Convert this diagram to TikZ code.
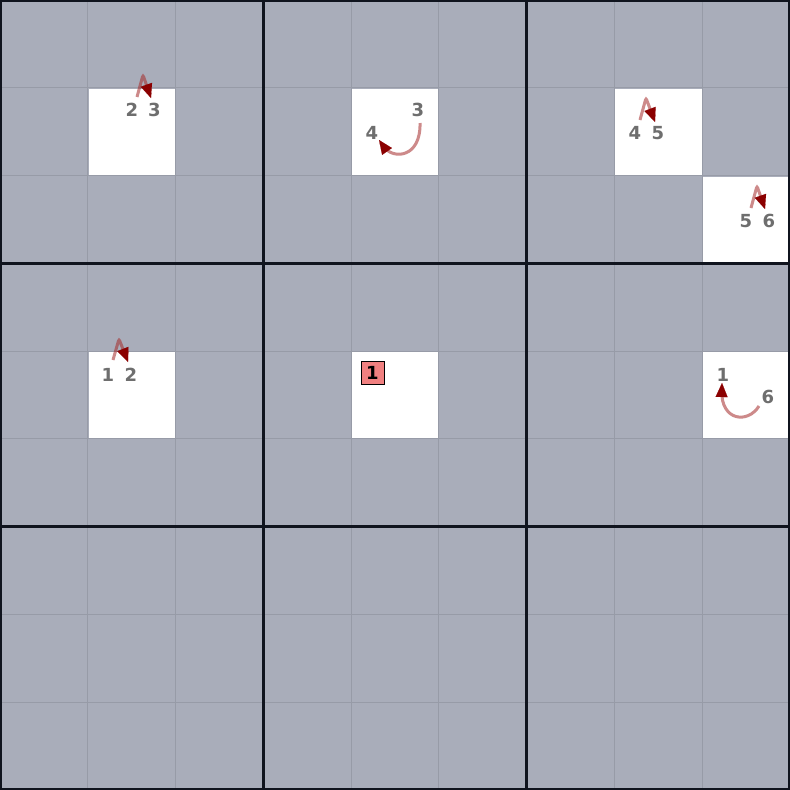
\documentclass[tikz,border=0pt]{standalone}
\usepackage{fontspec}
\setmainfont{DejaVu Sans}
\usetikzlibrary{arrows.meta,calc}
\definecolor{bg}{HTML}{A9ADBA}
\definecolor{gridthin}{HTML}{979BA7}
\definecolor{gridthick}{HTML}{10141E}
\definecolor{digit}{HTML}{6E6E6E}
\definecolor{linkcol}{HTML}{A52A2A}
\definecolor{tipred}{HTML}{8B0000}
\definecolor{boxred}{HTML}{F08080}
\tikzset{
  cand/.style={font=\fontsize{18}{20}\selectfont\bfseries, text=digit, inner sep=0pt},
  linkline/.style={draw=linkcol, draw opacity=0.55, line width=3pt, shorten >=8pt},
  vline/.style={linkline, rounded corners=2pt},
  linktip/.style={draw=tipred, line width=0.1pt, -{Triangle[length=14pt,width=12pt,color=tipred]}},
  given/.style={draw=black, line width=0.9pt, fill=boxred, minimum size=23pt, inner sep=0pt,
    font=\fontsize{18}{20}\selectfont\bfseries, text=black},
}
\begin{document}
\begin{tikzpicture}[x=1pt,y=-1pt]
\useasboundingbox (0,0) rectangle (790,790);
\fill[bg] (0,0) rectangle (790,790);
% white cells
\foreach \c/\r in {1/1,4/1,7/1,8/2,1/4,4/4,8/4}{
  \fill[white] ({\c*790/9+1},{\r*790/9+1}) rectangle ({(\c+1)*790/9},{(\r+1)*790/9});
}
% thin grid
\foreach \i in {1,2,4,5,7,8}{
  \draw[draw=gridthin, line width=1pt] ({\i*790/9},0) -- ({\i*790/9},790);
  \draw[draw=gridthin, line width=1pt] (0,{\i*790/9}) -- (790,{\i*790/9});
}
% thick grid
\foreach \i in {3,6}{
  \draw[draw=gridthick, line width=3pt] ({\i*790/9},0) -- ({\i*790/9},790);
  \draw[draw=gridthick, line width=3pt] (0,{\i*790/9}) -- (790,{\i*790/9});
}
\draw[draw=gridthick, line width=4pt] (0,0) rectangle (790,790);

% cell r1c1: 2 3
\node[cand] (a2) at (132,110) {2};
\node[cand] (a3) at (154.5,110) {3};
\coordinate (a2s) at (137,97);
\coordinate (a2p) at (143,75);
\coordinate (a3e) at (151,98);
\draw[vline] (a2s) -- (a2p) -- (a3e);
\draw[linktip] ($(a3e)!2pt!(a2p)$) -- (a3e);

% cell r1c4: 3 -> 4
\node[cand] (b3) at (418,110) {3};
\node[cand] (b4) at (372,133) {4};
\coordinate (b3s) at (420,123);
\coordinate (b4c) at (393,160);
\coordinate (b4e) at (379,140);
\draw[linkline] (b3s) .. controls (421,158) and (b4c) .. (b4e);
\draw[linktip] ($(b4e)!2pt!(b4c)$) -- (b4e);

% cell r1c7: 4 5
\node[cand] (c4) at (635,133) {4};
\node[cand] (c5) at (658,133) {5};
\coordinate (c4s) at (640,120);
\coordinate (c4p) at (646,98);
\coordinate (c5e) at (655,122);
\draw[vline] (c4s) -- (c4p) -- (c5e);
\draw[linktip] ($(c5e)!2pt!(c4p)$) -- (c5e);

% cell r2c8: 5 6
\node[cand] (d5) at (746,221) {5};
\node[cand] (d6) at (769,221) {6};
\coordinate (d5s) at (751,208);
\coordinate (d5p) at (757,186);
\coordinate (d6e) at (765,209);
\draw[vline] (d5s) -- (d5p) -- (d6e);
\draw[linktip] ($(d6e)!2pt!(d5p)$) -- (d6e);

% cell r4c1: 1 2
\node[cand] (e1) at (108,375) {1};
\node[cand] (e2) at (131,375) {2};
\coordinate (e1s) at (113,360);
\coordinate (e1p) at (119,339);
\coordinate (e2e) at (128,362);
\draw[vline] (e1s) -- (e1p) -- (e2e);
\draw[linktip] ($(e2e)!2pt!(e1p)$) -- (e2e);

% cell r4c4: given 1
\node[given] (g1) at (372.5,372.5) {1};

% cell r4c8: 6 -> 1
\node[cand] (f1) at (723,375) {1};
\node[cand] (f6) at (768,397) {6};
\coordinate (f6s) at (759,406);
\coordinate (f1c) at (721,421);
\coordinate (f1e) at (722,383);
\draw[linkline] (f6s) .. controls (748,424) and (f1c) .. (f1e);
\draw[linktip] ($(f1e)!2pt!(f1c)$) -- (f1e);
\end{tikzpicture}
\end{document}
